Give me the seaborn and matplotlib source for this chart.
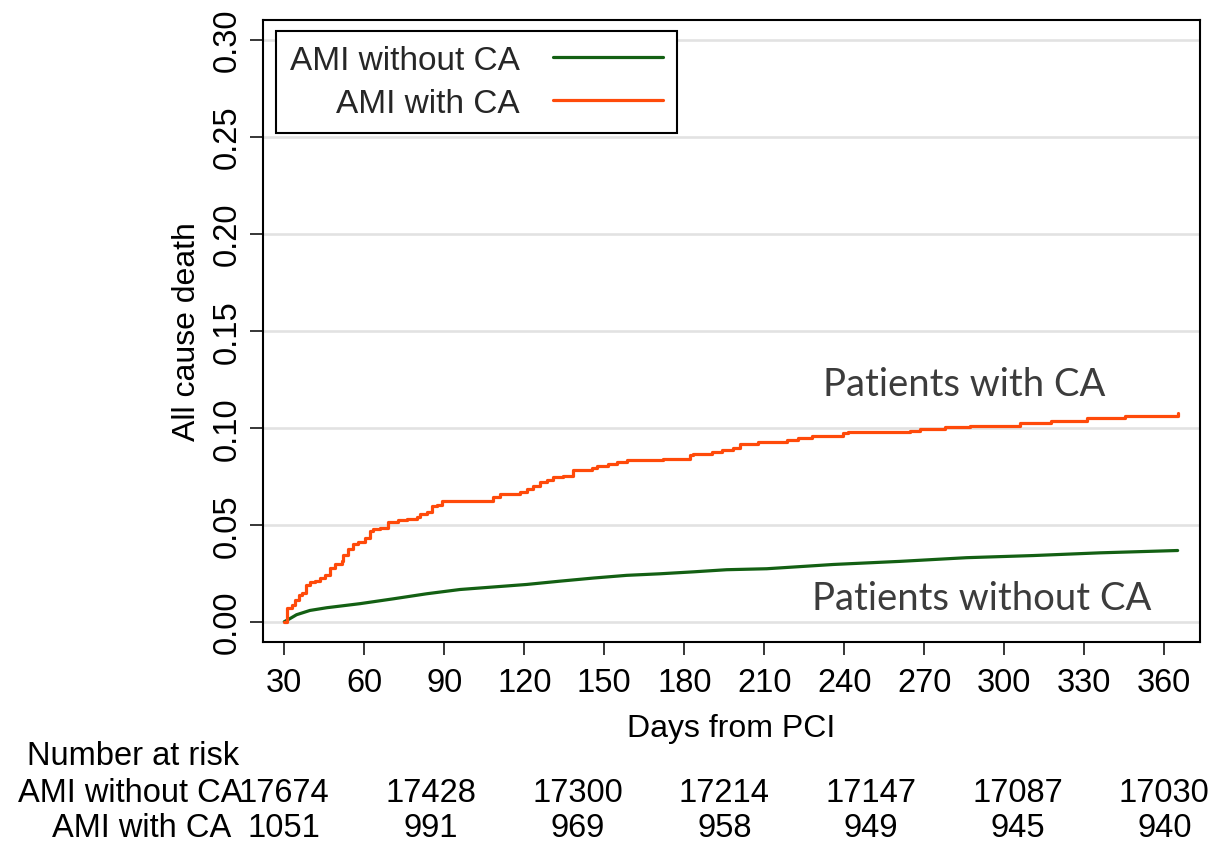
import numpy as np
import pandas as pd
import matplotlib
matplotlib.use("Agg")
import matplotlib.pyplot as plt
import matplotlib.transforms as mtransforms
import seaborn as sns

# ---------------- data ----------------
no_ca_days = [30, 32, 34.6, 39.6, 45.9, 58.4, 70.9, 83.4, 95.9, 108.4, 120.9, 133.4,
              145.9, 158.4, 170.9, 183.4, 195.9, 210.9, 235.9, 260.9, 285.9, 310.9,
              335.9, 365]
no_ca_death = [0, 0.0015, 0.0036, 0.0058, 0.0072, 0.0093, 0.0118, 0.0144, 0.0166,
               0.0179, 0.0192, 0.0209, 0.0225, 0.0239, 0.0247, 0.0257, 0.0268,
               0.0273, 0.0295, 0.0311, 0.0330, 0.0341, 0.0355, 0.0367]

ca_days = [30, 30.9, 32.8, 34.0, 35.6, 36.5, 38.0, 39.6, 41.5, 43.4, 45.3, 47.1, 49.0,
           51.5, 52.1, 54.0, 55.9, 57.7, 60.3, 62.1, 63.4, 65.9, 69.0, 72.7, 75.9,
           79.6, 80.9, 83.4, 85.3, 87.1, 89.0, 108.4, 110.9, 118.4, 120.9, 123.4,
           125.9, 128.4, 130.9, 134.6, 138.4, 145.3, 147.1, 151.5, 154.6, 158.4,
           172.1, 182.1, 183.4, 190.3, 194.0, 198.4, 200.9, 207.7, 218.4, 222.7,
           227.8, 239.6, 241.5, 264.6, 268.4, 277.7, 287.1, 305.9, 317.7, 330.9,
           345.2, 365]
ca_death = [0, 0.0070, 0.0088, 0.0110, 0.0136, 0.0148, 0.0187, 0.0204, 0.0208, 0.0225,
            0.0242, 0.0276, 0.0299, 0.0311, 0.0342, 0.0373, 0.0402, 0.0410, 0.0431,
            0.0470, 0.0479, 0.0482, 0.0513, 0.0522, 0.0530, 0.0539, 0.0556, 0.0565,
            0.0594, 0.0603, 0.0620, 0.0642, 0.0659, 0.0671, 0.0685, 0.0702, 0.0719,
            0.0728, 0.0748, 0.0753, 0.0783, 0.0791, 0.0802, 0.0814, 0.0822, 0.0831,
            0.0839, 0.0860, 0.0867, 0.0874, 0.0886, 0.0894, 0.0915, 0.0925, 0.0937,
            0.0946, 0.0956, 0.0972, 0.0977, 0.0985, 0.0994, 0.1003, 0.1011, 0.1023,
            0.1032, 0.1049, 0.1059, 0.1078]

x_ticks = [30, 60, 90, 120, 150, 180, 210, 240, 270, 300, 330, 360]
y_ticks = [0.00, 0.05, 0.10, 0.15, 0.20, 0.25, 0.30]

risk_days = [30, 85, 140, 195, 250, 305, 360]
risk_no_ca = [17674, 17428, 17300, 17214, 17147, 17087, 17030]
risk_ca = [1051, 991, 969, 958, 949, 945, 940]

label_no_ca = "AMI without CA"
label_ca = "AMI with CA"

# ---------------- style ----------------
sns.set_theme(style="white")
plt.rcParams['font.family'] = ['Liberation Sans', 'DejaVu Sans']

GREEN = "#136013"
ORANGE = "#FF4A0A"
FS = 23.5

W, H = 1217, 845
fig = plt.figure(figsize=(W / 100, H / 100), dpi=100)
L, R, T, B = 263.3, 1199.5, 20.7, 643.0
ax = fig.add_axes([L / W, 1 - B / H, (R - L) / W, (B - T) / H])

df_no = pd.DataFrame({"day": no_ca_days, "death": no_ca_death})
df_ca = pd.DataFrame({"day": ca_days, "death": ca_death})

sns.lineplot(data=df_no, x="day", y="death", color=GREEN, lw=2.3, ax=ax,
             estimator=None, label=label_no_ca)
sns.lineplot(data=df_ca, x="day", y="death", color=ORANGE, lw=2.3, ax=ax,
             estimator=None, drawstyle="steps-post", label=label_ca)

ax.set_xlim(22.13, 373.2)
ax.set_ylim(-0.01046, 0.3103)
ax.set_xticks(x_ticks)
ax.set_yticks(y_ticks)
ax.set_yticklabels([f"{v:.2f}" for v in y_ticks])

ax.yaxis.grid(True, color="#e2e2e2", lw=1.9)
ax.xaxis.grid(False)
ax.set_axisbelow(True)

for s in ax.spines.values():
    s.set_visible(True)
    s.set_color("black")
    s.set_linewidth(1.5)

ax.tick_params(axis="both", direction="out", length=9.5, width=1.1, color="black",
               labelsize=FS, labelcolor="black")
ax.tick_params(axis="x", pad=8.5, bottom=True)
ax.tick_params(axis="y", pad=5, left=True)
for lab in ax.get_yticklabels():
    lab.set_rotation(90)
    lab.set_va("center")

ax.set_xlabel("Days from PCI", fontsize=23, color="black", labelpad=11)
ax.set_ylabel("All cause death", fontsize=23, color="black", labelpad=7)

leg = ax.legend(loc="upper left", bbox_to_anchor=(0.0136, 0.9818), borderaxespad=0,
                markerfirst=False, fancybox=False, frameon=True, edgecolor="black",
                framealpha=1, fontsize=24, handlelength=3.3, handletextpad=1.0,
                labelspacing=0.36, borderpad=0.42)
leg.get_frame().set_linewidth(1.5)

# annotations
ax.text(284.9, 0.1171, "Patients with CA", ha="center", va="baseline",
        fontsize=27.5, color="#3c3c3c", family=["Lato", "DejaVu Sans"])
ax.text(291.5, 0.0067, "Patients without CA", ha="center", va="baseline",
        fontsize=27.5, color="#3c3c3c", family=["Lato", "DejaVu Sans"])

# risk table
trans = mtransforms.blended_transform_factory(ax.transData, fig.transFigure)
fig.text(27 / W, 1 - 765 / H, "Number at risk", ha="left", va="baseline",
         fontsize=FS, color="black")
fig.text(243 / W, 1 - 802 / H, label_no_ca, ha="right", va="baseline",
         fontsize=FS, color="black")
fig.text(231 / W, 1 - 837 / H, label_ca, ha="right", va="baseline",
         fontsize=FS, color="black")
for d, n1, n2 in zip(risk_days, risk_no_ca, risk_ca):
    ax.text(d, 1 - 802 / H, f"{n1}", transform=trans, ha="center", va="baseline",
            fontsize=FS, color="black", clip_on=False)
    ax.text(d, 1 - 837 / H, f"{n2}", transform=trans, ha="center", va="baseline",
            fontsize=FS, color="black", clip_on=False)

fig.savefig("out.png", dpi=100)
